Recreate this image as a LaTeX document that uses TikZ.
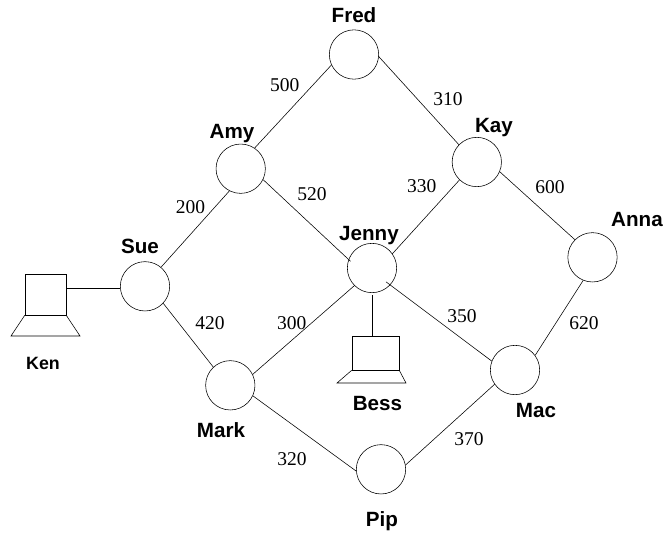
\documentclass[tikz,border=0pt]{standalone}
\usepackage{fontspec}
\setmainfont{Liberation Serif}
\newfontfamily\lblfont{Liberation Sans}
\tikzset{
  router/.style={circle,draw,line width=0.6pt,minimum size=1.85cm,inner sep=0pt},
  screen/.style={rectangle,draw,line width=0.6pt,inner sep=0pt},
  hostname/.style={font=\lblfont\bfseries\fontsize{22}{24}\selectfont,inner sep=0pt,anchor=base},
  smallname/.style={font=\lblfont\bfseries\fontsize{19}{21}\selectfont,inner sep=0pt,anchor=base},
  weight/.style={font=\fontsize{20.8}{23}\selectfont,inner sep=0pt,anchor=base},
  link/.style={line width=0.6pt}
}
\begin{document}
\begin{tikzpicture}[x=0.0375cm,y=-0.0375cm]
\useasboundingbox (0,0) rectangle (667,535);
\node[router] (fred) at (354,54.5) {};
\node[router] (amy) at (240.7,168.7) {};
\node[router] (kay) at (476.8,162) {};
\node[router] (anna) at (592.5,257.3) {};
\node[router] (sue) at (145,286.3) {};
\node[router] (jenny) at (372,268) {};
\node[router] (mark) at (230.3,385.3) {};
\node[router] (mac) at (515,370) {};
\node[router] (pip) at (381,469.3) {};
\node[screen,minimum width=1.5375cm,minimum height=1.5375cm] (ken) at (45.5,294.5) {};
\node[screen,minimum width=1.7625cm,minimum height=1.275cm] (bess) at (375.5,353) {};
\coordinate (kenlink) at (66,288);
\coordinate (besslink) at (372,336);
\coordinate (kenbl) at (11,336);
\coordinate (kenbr) at (80,336);
\coordinate (bessbl) at (337,383);
\coordinate (bessbr) at (406,383);
\draw[link] (fred.205)--(amy.56);
\draw[link] (fred.355)--(kay.136);
\draw[link] (amy.243)--(sue.50);
\draw[link,shorten >=-0.1cm] (amy.334)--(jenny.160);
\draw[link] (kay.226)--(jenny.35);
\draw[link] (kay.337)--(anna.135);
\draw[link] (sue.317)--(mark.133);
\draw[link] (jenny.225)--(mark.26);
\draw[link,shorten <=-0.2cm] (jenny.317)--(mac.159);
\draw[link] (anna.248)--(mac.36);
\draw[link] (mark.335)--(pip.184);
\draw[link] (pip.10)--(mac.215);
\draw[link] (kenlink)--(kenlink -| sue.west);
\draw[link,shorten <=0.09cm] (jenny.south)--(besslink);
\draw[link] (ken.south west) -- (kenbl) -- (kenbr) -- (ken.south east);
\draw[link] (bess.south west) -- (bessbl) -- (bessbr) -- (bess.south east);
\node[hostname] (lfred) at (354,22.7) {Fred};
\node[hostname] (lamy) at (232,138) {Amy};
\node[hostname] (lkay) at (494,132) {Kay};
\node[hostname] (lanna) at (637,226.7) {Anna};
\node[hostname] (lsue) at (140,253) {Sue};
\node[hostname] (ljenny) at (369,240.7) {Jenny};
\node[hostname] (lmark) at (221,437) {Mark};
\node[hostname] (lmac) at (536,417) {Mac};
\node[hostname] (lpip) at (382,526.7) {Pip};
\node[hostname] (lbess) at (377.5,410) {Bess};
\node[smallname] (lken) at (43,369) {Ken};
\node[weight] (wa) at (284.7,91) {500};
\node[weight] (wb) at (448,105) {310};
\node[weight] (wc) at (190.5,213) {200};
\node[weight] (wd) at (312,200) {520};
\node[weight] (we) at (421.7,192.7) {330};
\node[weight] (wf) at (550,193) {600};
\node[weight] (wg) at (210,329) {420};
\node[weight] (wh) at (291.7,329) {300};
\node[weight] (wi) at (462,322) {350};
\node[weight] (wj) at (584,329) {620};
\node[weight] (wk) at (292,465) {320};
\node[weight] (wm) at (469,445) {370};
\end{tikzpicture}
\end{document}
